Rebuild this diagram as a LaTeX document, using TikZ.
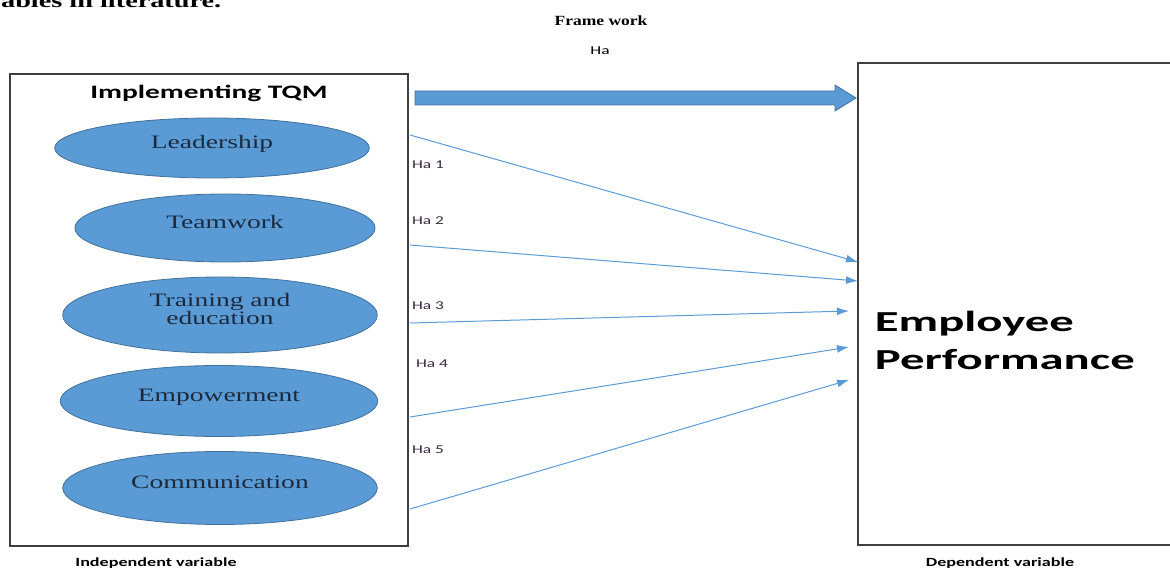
\documentclass[tikz,border=0pt]{standalone}
\usepackage{fontspec}
\setmainfont{Liberation Serif}
\setsansfont{Carlito}
\usepackage{tikz}
\usetikzlibrary{calc,shapes.geometric,arrows.meta}
\definecolor{fillblue}{HTML}{5B9BD5}
\definecolor{edgeblue}{HTML}{41719C}
\definecolor{boxgray}{HTML}{3F3F3F}
\definecolor{navy}{HTML}{1C2A3E}
\definecolor{halabel}{HTML}{3B2A3B}
\tikzset{
  wide/.style={xscale=1.45},
  varbox/.style={draw=boxgray,line width=1.4pt,inner sep=0pt},
  factor/.style={ellipse,draw=edgeblue,fill=fillblue,line width=0.8pt,inner sep=0pt,align=center,text=navy,text depth=12pt,font=\fontsize{19}{17}\selectfont,xscale=1.45},
  hyp/.style={draw=fillblue,line width=1pt,-{Latex[length=12pt,width=8pt]}},
  halab/.style={anchor=west,text=halabel,font=\sffamily\fontsize{12}{14}\selectfont,xscale=1.45}
}
\begin{document}
\begin{tikzpicture}[x=1pt,y=-1pt]
\useasboundingbox (0,0) rectangle (1170,569);
\node[anchor=base west,font=\bfseries\fontsize{19.5}{22}\selectfont,wide] (intro) at (-4,8) {ables in literature.};
\node[font=\bfseries\fontsize{14}{16}\selectfont,xscale=1.25] (fw) at (601,21) {Frame work};
\node[font=\sffamily\fontsize{12}{14}\selectfont,wide] (ha) at (600,51) {Ha};
\node[varbox,minimum width=398pt,minimum height=472pt] (tqm) at (209,310) {};
\node[varbox,minimum width=330pt,minimum height=482pt] (perf) at (1023,304) {};
\node[font=\sffamily\bfseries\fontsize{19}{21}\selectfont,xscale=1.55] (title) at (209,93) {Implementing TQM};
\node[factor,minimum width=217pt,minimum height=60pt] (lead) at (212,148) {Leadership};
\node[factor,minimum width=207pt,minimum height=68pt] (team) at (225,228) {Teamwork};
\node[factor,minimum width=217pt,minimum height=76pt] (train) at (220,315) {Training and\\education};
\node[factor,minimum width=219pt,minimum height=71pt] (empow) at (219,401) {Empowerment};
\node[factor,minimum width=217pt,minimum height=73pt] (comm) at (220,488) {Communication};
\node[anchor=west,align=left,font=\sffamily\bfseries\fontsize{29}{38}\selectfont,xscale=1.68] (emp) at (869,340) {Employee\\Performance};
\node[font=\sffamily\bfseries\fontsize{12.5}{14}\selectfont,wide] (indep) at (156,563) {Independent variable};
\node[font=\sffamily\bfseries\fontsize{12.5}{14}\selectfont,wide] (dep) at (1000,563) {Dependent variable};
\fill[fillblue,draw=edgeblue,line width=0.8pt] (415,91) -- (835,91) -- (835,85) -- (856,98) -- (835,111) -- (835,105) -- (415,105) -- cycle;
\foreach \n/\sy in {1/135,2/245,3/323,4/417,5/509}
\coordinate (s\n) at (410,\sy);
\foreach \n/\ex in {1/858,2/858,3/849,4/849,5/849}
\coordinate (e\n) at (\ex,0);
\foreach \n/\ey in {1/262,2/281,3/311,4/347,5/380}
\draw[hyp] (s\n) -- (e\n |- 0,\ey);
\foreach \n/\x/\y in {1/407/165,2/407/221,3/407/306,4/411/364,5/407/450}
\node[halab] (ha\n) at (\x,\y) {Ha \n};
\end{tikzpicture}
\end{document}
